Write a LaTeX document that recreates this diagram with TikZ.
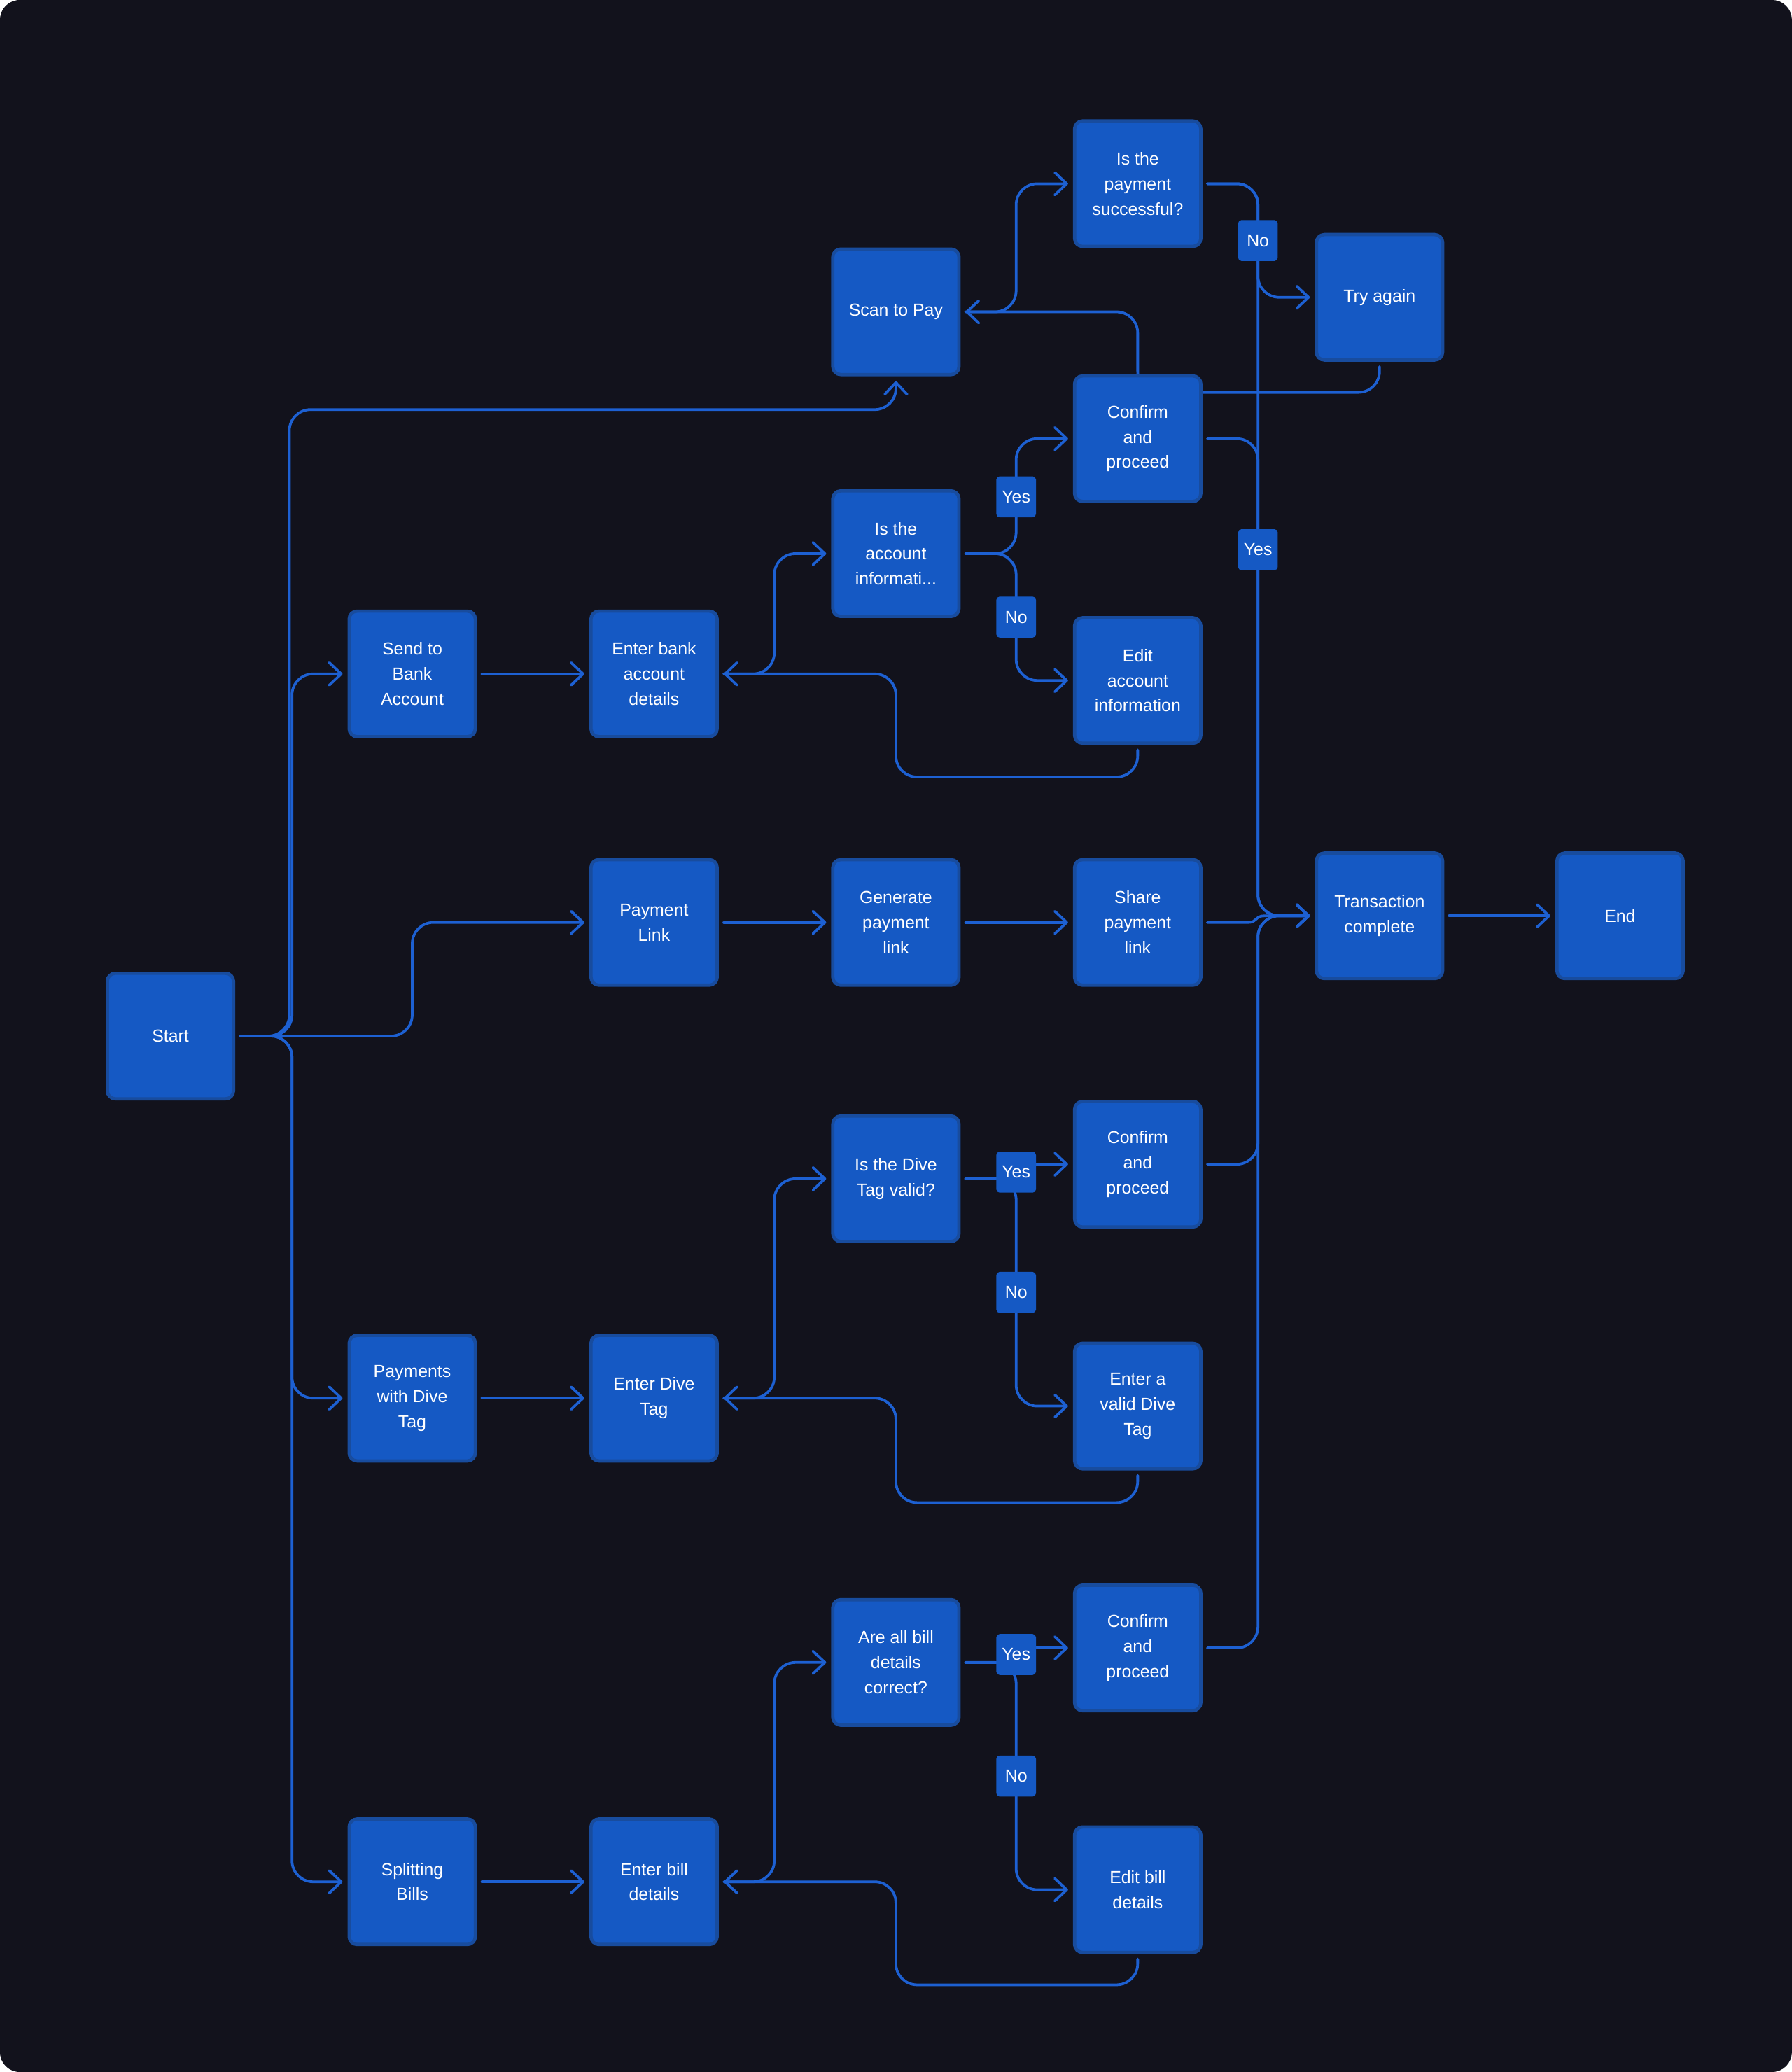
\documentclass[tikz,border=0pt]{standalone}
\usepackage{fontspec}
\setmainfont{Liberation Sans}
\usetikzlibrary{arrows.meta}
\definecolor{bgc}{HTML}{12121C}
\definecolor{boxfill}{HTML}{1559C4}
\definecolor{boxline}{HTML}{184C9E}
\definecolor{conncol}{HTML}{1D60D2}
\pgfdeclarelayer{back}
\pgfdeclarelayer{lines}
\pgfsetlayers{back,lines,main}
\begin{document}
\begin{tikzpicture}[x=0.02cm,y=-0.02cm,
  box/.style={draw=boxline, fill=boxfill, line width=0.05cm, rounded corners=0.12cm,
    minimum width=1.91cm, minimum height=1.9cm, align=center, text=white,
    font=\fontsize{7.5}{10.8}\selectfont, outer sep=0.1cm, inner sep=0pt},
  lab/.style={fill=boxfill, rounded corners=0.05cm, minimum width=0.6cm, minimum height=0.62cm,
    text=white, font=\fontsize{7.5}{9}\selectfont, inner sep=1pt},
  conn/.style={draw=conncol, line width=0.04cm, rounded corners=0.32cm, line cap=round},
  arr/.style={conn, -{Straight Barb[length=0.18cm,width=0.34cm,line width=0.04cm,round]}}
]
\useasboundingbox (0,0) rectangle (1356,1568);
\begin{pgfonlayer}{back}
\fill[white] (0,0) rectangle (1356,1568);
\fill[bgc, rounded corners=0.3cm] (0,0) rectangle (1356,1568);
\end{pgfonlayer}

\node[box] (start) at (129,784) {Start};
\node[box] (scan) at (678,236) {Scan to Pay};
\node[box] (pay) at (861,139) {Is the\\payment\\successful?};
\node[box] (try) at (1044,225) {Try again};
\node[box] (conf1) at (861,332) {Confirm\\and\\proceed};
\node[box] (acc) at (678,419) {Is the\\account\\informati...};
\node[box] (edita) at (861,515) {Edit\\account\\information};
\node[box] (bank) at (312,510) {Send to\\Bank\\Account};
\node[box] (ebank) at (495,510) {Enter bank\\account\\details};
\node[box] (plink) at (495,698) {Payment\\Link};
\node[box] (gen) at (678,698) {Generate\\payment\\link};
\node[box] (share) at (861,698) {Share\\payment\\link};
\node[box] (trans) at (1044,693) {Transaction\\complete};
\node[box] (end) at (1226,693) {End};
\node[box] (tagq) at (678,892) {Is the Dive\\Tag valid?};
\node[box] (conf2) at (861,881) {Confirm\\and\\proceed};
\node[box] (validtag) at (861,1064) {Enter a\\valid Dive\\Tag};
\node[box] (ptag) at (312,1058) {Payments\\with Dive\\Tag};
\node[box] (etag) at (495,1058) {Enter Dive\\Tag};
\node[box] (billq) at (678,1258) {Are all bill\\details\\correct?};
\node[box] (conf3) at (861,1247) {Confirm\\and\\proceed};
\node[box] (editb) at (861,1430) {Edit bill\\details};
\node[box] (split) at (312,1424) {Splitting\\Bills};
\node[box] (ebill) at (495,1424) {Enter bill\\details};

\begin{pgfonlayer}{lines}
\draw[arr] (start.east) -- (219,784) -- (219,310) -- (678,310) -- (scan.south);
\draw[arr] (start.east) -- (221,784) -- (221,510) -- (bank.west);
\draw[arr] (start.east) -- (312,784) -- (312,698) -- (plink.west);
\draw[arr] (start.east) -- (221,784) -- (221,1058) -- (ptag.west);
\draw[arr] (start.east) -- (221,784) -- (221,1424) -- (split.west);
\draw[arr] (bank.east) -- (ebank.west);
\draw[arr] (ebank.east) -- (586,510) -- (586,419) -- (acc.west);
\draw[arr] (acc.east) -- (769,419) -- (769,332) -- (conf1.west);
\draw[arr] (acc.east) -- (769,419) -- (769,515) -- (edita.west);
\draw[arr] (edita.south) -- (861,588) -- (678,588) -- (678,510) -- (ebank.east);
\draw[arr] (scan.east) -- (769,236) -- (769,139) -- (pay.west);
\draw[arr] (pay.east) -- (952,139) -- (952,225) -- (try.west);
\draw[arr] (pay.east) -- (952,139) -- (952,693) -- (trans.west);
\draw[arr] (try.south) -- (1044,297) -- (861,297) -- (861,236) -- (scan.east);
\draw[arr] (conf1.east) -- (952,332) -- (952,693) -- (trans.west);
\draw[arr] (plink.east) -- (gen.west);
\draw[arr] (gen.east) -- (share.west);
\draw[arr, sharp corners] (share.east) -- (945,698) .. controls (951,698) and (950,693) .. (957,693) -- (trans.west);
\draw[arr] (trans.east) -- (end.west);
\draw[arr] (ptag.east) -- (etag.west);
\draw[arr] (etag.east) -- (586,1058) -- (586,892) -- (tagq.west);
\draw[arr, sharp corners] (tagq.east) -- (769,892) -- (769,881) -- (conf2.west);
\draw[arr] (tagq.east) -- (769,892) -- (769,1064) -- (validtag.west);
\draw[arr] (validtag.south) -- (861,1137) -- (678,1137) -- (678,1058) -- (etag.east);
\draw[arr] (conf2.east) -- (952,881) -- (952,693) -- (trans.west);
\draw[arr] (split.east) -- (ebill.west);
\draw[arr] (ebill.east) -- (586,1424) -- (586,1258) -- (billq.west);
\draw[arr, sharp corners] (billq.east) -- (769,1258) -- (769,1247) -- (conf3.west);
\draw[arr] (billq.east) -- (769,1258) -- (769,1430) -- (editb.west);
\draw[arr] (editb.south) -- (861,1502) -- (678,1502) -- (678,1424) -- (ebill.east);
\draw[arr] (conf3.east) -- (952,1247) -- (952,693) -- (trans.west);
\end{pgfonlayer}

\node[lab] (l1) at (952,182) {No};
\node[lab] (l2) at (769,376) {Yes};
\node[lab] (l3) at (952,416) {Yes};
\node[lab] (l4) at (769,467) {No};
\node[lab] (l5) at (769,887) {Yes};
\node[lab] (l6) at (769,978) {No};
\node[lab] (l7) at (769,1252) {Yes};
\node[lab] (l8) at (769,1344) {No};
\end{tikzpicture}
\end{document}
